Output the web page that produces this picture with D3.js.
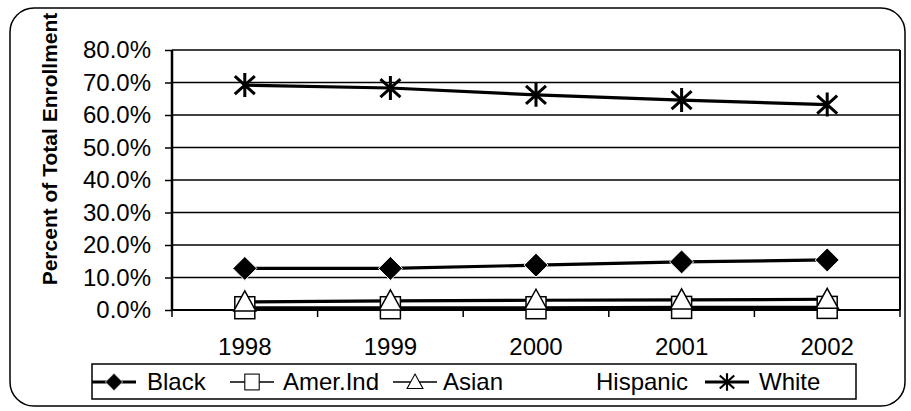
<!DOCTYPE html>
<html>
<head>
<meta charset="utf-8">
<script src="https://cdn.jsdelivr.net/npm/d3@7"></script>
<style>
    body { margin: 0; background: #fff; }
    svg { display: block; font-family: "Liberation Sans", Arial, sans-serif; }
    .grid line { stroke: #000; stroke-width: 1.5; }
    .series-line { fill: none; stroke: #000; stroke-width: 3.2; }
    .tick-label { font-size: 24px; fill: #000; }
    .legend-text { font-size: 24px; fill: #000; }
</style>
</head>
<body>
<svg id="chart" width="911" height="411"></svg>
<script>
// Data (percent of total enrollment)
const years = ['1998', '1999', '2000', '2001', '2002'];
const yTicks = [0, 10, 20, 30, 40, 50, 60, 70, 80];
const black = [12.8, 12.8, 13.8, 14.8, 15.4];
const amerInd = [0.7, 0.7, 0.7, 0.8, 0.8];
const asian = [2.5, 2.8, 3.0, 3.1, 3.3];
const white = [69.2, 68.3, 66.2, 64.6, 63.2];
const legendNames = ['Black', 'Amer.Ind', 'Asian', 'Hispanic', 'White'];

class EnrollmentChart {
    constructor() {
        this.svg = d3.select('#chart');
        this.plot = { left: 172, right: 900, top: 50, bottom: 310 };

        this.x = d3.scaleBand()
            .domain(years)
            .range([this.plot.left, this.plot.right])
            .padding(0);
        this.y = d3.scaleLinear()
            .domain([0, 80])
            .range([this.plot.bottom, this.plot.top]);

        // marker shapes, drawn around (0,0)
        this.markers = {
            diamond: g => g.append('path')
                .attr('d', 'M0,-12L12,0L0,12L-12,0Z')
                .attr('fill', '#000').attr('stroke', '#fff').attr('stroke-width', 1),
            square: g => g.append('rect')
                .attr('x', -10).attr('y', -11).attr('width', 20).attr('height', 22)
                .attr('fill', '#fff').attr('stroke', '#000').attr('stroke-width', 1.5),
            triangle: g => g.append('path')
                .attr('d', 'M0,-11L11,9L-11,9Z')
                .attr('fill', '#fff').attr('stroke', '#000').attr('stroke-width', 1.5),
            star: g => g.append('path')
                .attr('d', 'M0,-12V12M-10,-9L10,9M-10,9L10,-9')
                .attr('fill', 'none').attr('stroke', '#000').attr('stroke-width', 3),
            none: () => {}
        };

        this.series = [
            { name: 'Black', values: black, marker: 'diamond' },
            { name: 'Amer.Ind', values: amerInd, marker: 'square' },
            { name: 'Asian', values: asian, marker: 'triangle' },
            { name: 'White', values: white, marker: 'star' }
        ];

        this.drawFrame();
        this.drawAxes();
        this.drawSeries();
        this.drawLegend();
    }

    drawFrame() {
        // outer rounded chart border
        this.svg.append('rect')
            .attr('x', 10).attr('y', 8)
            .attr('width', 895).attr('height', 398)
            .attr('rx', 24).attr('ry', 24)
            .attr('fill', 'none').attr('stroke', '#000').attr('stroke-width', 1.5);
    }

    drawAxes() {
        const p = this.plot;

        // horizontal gridlines
        this.svg.append('g').attr('class', 'grid')
            .selectAll('line')
            .data(yTicks)
            .join('line')
            .attr('x1', p.left).attr('x2', p.right)
            .attr('y1', d => this.y(d)).attr('y2', d => this.y(d));

        // right side of the plot frame
        this.svg.append('line')
            .attr('x1', p.right).attr('x2', p.right)
            .attr('y1', p.top).attr('y2', p.bottom)
            .attr('stroke', '#000').attr('stroke-width', 2);

        const yAxis = d3.axisLeft(this.y)
            .tickValues(yTicks)
            .tickSize(7)
            .tickFormat(d => d.toFixed(1) + '%');
        const yg = this.svg.append('g')
            .attr('transform', `translate(${p.left},0)`)
            .call(yAxis);
        yg.select('.domain').attr('stroke-width', 2.5).attr('d', `M0,${p.top}V${p.bottom}`);
        yg.selectAll('.tick line').attr('stroke-width', 1.5);
        yg.selectAll('.tick text')
            .attr('class', 'tick-label')
            .attr('x', -21)
            .attr('font-family', null).attr('font-size', null);

        // x axis: ticks at category boundaries, labels at centres
        const xg = this.svg.append('g')
            .attr('transform', `translate(0,${p.bottom})`);
        xg.append('line')
            .attr('x1', p.left).attr('x2', p.right)
            .attr('stroke', '#000').attr('stroke-width', 2);
        const bounds = years.map(d => this.x(d)).concat([p.right]);
        xg.selectAll('.xtick')
            .data(bounds)
            .join('line')
            .attr('class', 'xtick')
            .attr('x1', d => d).attr('x2', d => d)
            .attr('y1', 0).attr('y2', 7)
            .attr('stroke', '#000').attr('stroke-width', 1.5);
        xg.selectAll('.xlabel')
            .data(years)
            .join('text')
            .attr('class', 'tick-label')
            .attr('x', d => this.x(d) + this.x.bandwidth() / 2)
            .attr('y', 45)
            .attr('text-anchor', 'middle')
            .text(d => d);

        // y axis title
        this.svg.append('text')
            .attr('transform', 'translate(57,149) rotate(-90)')
            .attr('text-anchor', 'middle')
            .attr('font-size', 21)
            .attr('font-weight', 'bold')
            .text('Percent of Total Enrollment');
    }

    drawSeries() {
        const cx = d => this.x(d) + this.x.bandwidth() / 2;
        const line = d3.line()
            .x((d, i) => cx(years[i]))
            .y(d => this.y(d));

        this.series.forEach(s => {
            this.svg.append('path')
                .attr('class', 'series-line')
                .attr('d', line(s.values));
        });

        this.series.forEach(s => {
            s.values.forEach((v, i) => {
                const g = this.svg.append('g')
                    .attr('transform', `translate(${cx(years[i])},${this.y(v)})`);
                this.markers[s.marker](g);
            });
        });
    }

    drawLegend() {
        const lg = this.svg.append('g');
        lg.append('rect')
            .attr('x', 92).attr('y', 364)
            .attr('width', 764).attr('height', 35)
            .attr('fill', '#fff').attr('stroke', '#000').attr('stroke-width', 1.5);

        // sym = symbol centre, lw = sample line width (0 = no line)
        const entries = [
            { name: legendNames[0], marker: 'diamond', sym: 114, text: 147, lw: 3 },
            { name: legendNames[1], marker: 'square', sym: 252, text: 283, lw: 1.5 },
            { name: legendNames[2], marker: 'triangle', sym: 415, text: 443, lw: 1.5 },
            { name: legendNames[3], marker: 'none', sym: 575, text: 596, lw: 0 },
            { name: legendNames[4], marker: 'star', sym: 727, text: 759, lw: 3 }
        ];
        const cy = 382;
        entries.forEach(e => {
            if (e.lw) {
                lg.append('line')
                    .attr('x1', e.sym - 22).attr('x2', e.sym + 22)
                    .attr('y1', cy).attr('y2', cy)
                    .attr('stroke', '#000').attr('stroke-width', e.lw);
            }
            const g = lg.append('g')
                .attr('transform', `translate(${e.sym},${cy}) scale(0.72)`);
            this.markers[e.marker](g);
            lg.append('text')
                .attr('class', 'legend-text')
                .attr('x', e.text).attr('y', cy)
                .attr('dy', '0.35em')
                .text(e.name);
        });
    }
}

const chart = new EnrollmentChart();
</script>
</body>
</html>
